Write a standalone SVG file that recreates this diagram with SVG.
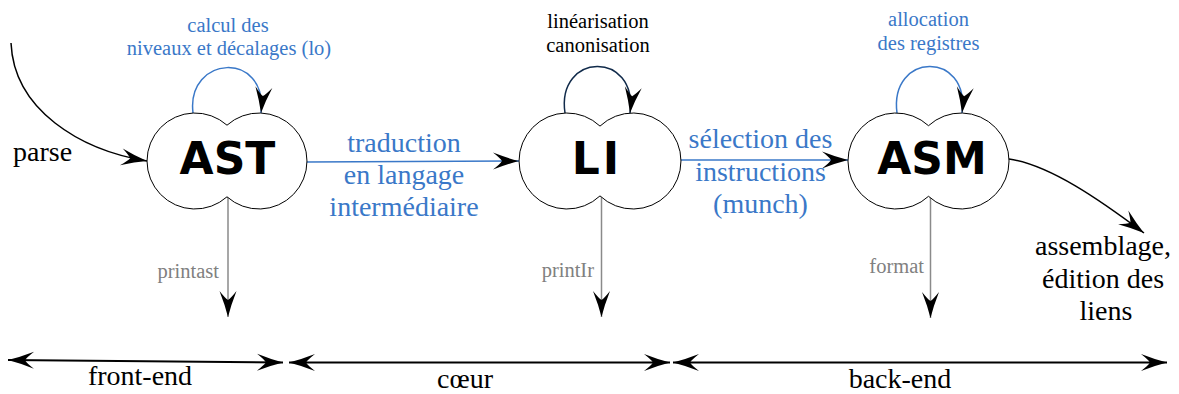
<svg xmlns="http://www.w3.org/2000/svg" width="1179" height="394" viewBox="0 0 1179 394">
  <style>
    .cloud { fill: #ffffff; stroke: #000000; stroke-width: 1; }
    .node-label { font-family: "DejaVu Sans", sans-serif; font-weight: bold; font-size: 44px; fill: #000000; text-anchor: middle; }
    .lbl { font-family: "Liberation Serif", serif; text-anchor: middle; }
    .big { font-size: 28px; }
    .small { font-size: 20.5px; }
    .blue { fill: #3a78c8; }
    .black { fill: #000000; }
    .gray { fill: #808080; text-anchor: end; }
    .edge { fill: none; stroke-width: 1.5; }
    .e-blue { stroke: #3a78c8; }
    .e-black { stroke: #000000; }
    .e-navy { stroke: #102a4a; }
    .e-gray { stroke: #8a8a8a; stroke-width: 1.5; }
    .span { fill: none; stroke: #000000; stroke-width: 2; }
  </style>
  <defs>
    <marker id="stealth" markerUnits="userSpaceOnUse" markerWidth="30" markerHeight="20" refX="0" refY="0" orient="auto" overflow="visible">
      <path d="M0,0 Q-12,-3 -26,-8.5 Q-19,-3 -17,0 Q-19,3 -26,8.5 Q-12,3 0,0 Z" fill="#000000"/>
    </marker>
    <marker id="stealth-start" markerUnits="userSpaceOnUse" markerWidth="30" markerHeight="20" refX="0" refY="0" orient="auto-start-reverse" overflow="visible">
      <path d="M0,0 Q-12,-3 -26,-8.5 Q-19,-3 -17,0 Q-19,3 -26,8.5 Q-12,3 0,0 Z" fill="#000000"/>
    </marker>
  </defs>

  <!-- connectors -->
  <g id="connectors">
    <!-- parse input -->
    <path class="edge e-black" d="M11,43 C14,110 80,150 147,161" marker-end="url(#stealth)"/>
    <!-- self loops -->
    <path class="edge e-blue" d="M193,113 C186,55 268,50 261,113" marker-end="url(#stealth)"/>
    <path class="edge e-navy" d="M565,113 C556,52 638,50 630,113" marker-end="url(#stealth)"/>
    <path class="edge e-blue" d="M897,113 C889,52 970,50 962,113" marker-end="url(#stealth)"/>
    <!-- main pipeline -->
    <path class="edge e-blue" d="M307,162 L519,161" marker-end="url(#stealth)"/>
    <path class="edge e-blue" d="M681,160 L848,160" marker-end="url(#stealth)"/>
    <!-- output -->
    <path class="edge e-black" d="M1009,159 C1050,165 1100,200 1144,233" marker-end="url(#stealth)"/>
    <!-- printers -->
    <path class="e-gray" d="M228,197 L228,317" marker-end="url(#stealth)"/>
    <path class="e-gray" d="M601.5,196 L601.5,317" marker-end="url(#stealth)"/>
    <path class="e-gray" d="M930.5,196 L930.5,318" marker-end="url(#stealth)"/>
    <!-- phase spans -->
    <path class="span" d="M8,360 L283,362.5" marker-start="url(#stealth-start)" marker-end="url(#stealth)"/>
    <path class="span" d="M289,362.5 L670,362.5" marker-start="url(#stealth-start)" marker-end="url(#stealth)"/>
    <path class="span" d="M673,362.5 L1167,362.5" marker-start="url(#stealth-start)" marker-end="url(#stealth)"/>
  </g>

  <g id="node-ast">
    <path class="cloud" d="M227,125.2 A48,48 0 1 1 227,196.8 A48,48 0 1 1 227,125.2 Z"/>
    <text class="node-label" x="227.5" y="174">AST</text>
  </g>

  <g id="node-li">
    <path class="cloud" d="M600,126.1 A48,48 0 1 1 600,195.9 A48,48 0 1 1 600,126.1 Z"/>
    <text class="node-label" x="597" y="174" letter-spacing="3">LI</text>
  </g>

  <g id="node-asm">
    <path class="cloud" d="M928.5,125.7 A48,48 0 1 1 928.5,196.3 A48,48 0 1 1 928.5,125.7 Z"/>
    <text class="node-label" x="932" y="174">ASM</text>
  </g>

  <g id="labels">
    <text class="lbl small blue" x="228" y="32">calcul des</text>
    <text class="lbl small blue" x="229" y="55">niveaux et décalages (lo)</text>

    <text class="lbl small black" x="598" y="28">linéarisation</text>
    <text class="lbl small black" x="598" y="52">canonisation</text>

    <text class="lbl small blue" x="928.5" y="26">allocation</text>
    <text class="lbl small blue" x="928.5" y="50">des registres</text>

    <text class="lbl big black" x="13" y="161" text-anchor="start" style="text-anchor:start">parse</text>

    <text class="lbl big blue" x="404" y="152">traduction</text>
    <text class="lbl big blue" x="404" y="184">en langage</text>
    <text class="lbl big blue" x="404" y="216">intermédiaire</text>

    <text class="lbl big blue" x="760.5" y="148">sélection des</text>
    <text class="lbl big blue" x="760.5" y="181">instructions</text>
    <text class="lbl big blue" x="760.5" y="213">(munch)</text>

    <text class="lbl small gray" x="219" y="278">printast</text>
    <text class="lbl small gray" x="594" y="277">printIr</text>
    <text class="lbl small gray" x="924" y="273">format</text>

    <text class="lbl big black" x="1103" y="255">assemblage,</text>
    <text class="lbl big black" x="1103" y="288">édition des</text>
    <text class="lbl big black" x="1106" y="320">liens</text>

    <text class="lbl big black" x="140" y="385">front-end</text>
    <text class="lbl big black" x="465" y="388">cœur</text>
    <text class="lbl big black" x="900" y="388">back-end</text>
  </g>
</svg>
